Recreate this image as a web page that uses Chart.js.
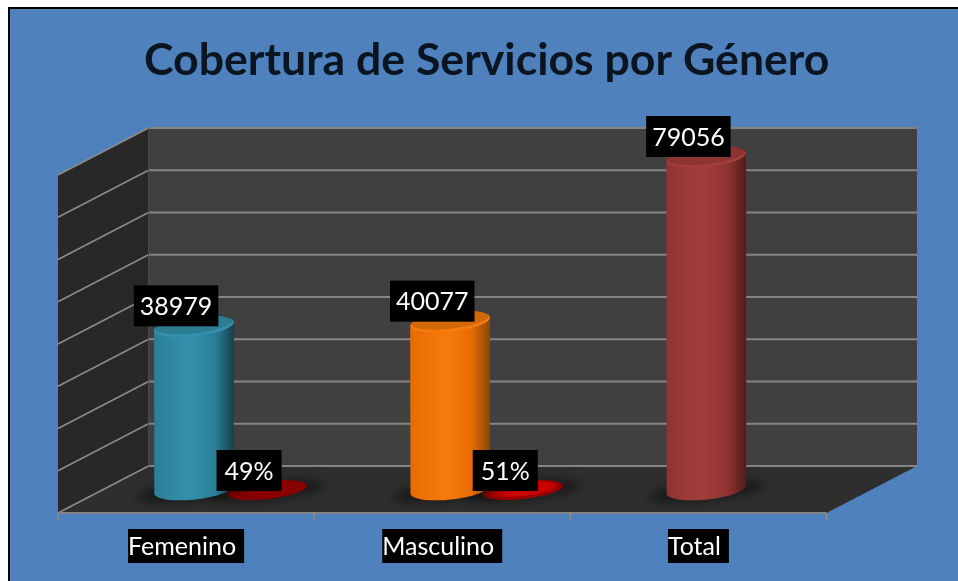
<!DOCTYPE html>
<html>
<head>
<meta charset="utf-8">
<title>Cobertura de Servicios por Género</title>
<script src="https://cdn.jsdelivr.net/npm/chart.js@4"></script>
<style>
  html, body { margin: 0; padding: 0; background: #fff; }
  canvas { display: block; }
</style>
</head>
<body>
<canvas id="cobertura" width="958" height="581"></canvas>
<script>
const categories = ['Femenino', 'Masculino', 'Total'];
const personas = [38979, 40077, 79056];
const porcentajes = [49, 51, null];
const axisTicks = [0, 10000, 20000, 30000, 40000, 50000, 60000, 70000, 80000];

// left, light, right-edge shades of each cylinder
const barShades = [
  ['#2b7f97', '#3491ab', '#173f4d'],
  ['#e86c02', '#f67a0c', '#8a4506'],
  ['#8f3431', '#a23d3a', '#4f1c1a']
];
const discShades = ['#8a0000', '#c80000'];

// the bars stand on a plane halfway between the front edge and the back wall
const front = { dx: -44.5, dy: 22 };
const back = { dx: 46, dy: -25 };
const RY = 10;
const TILT = -0.11;
const BASE_LIFT = 1.5;
const LABEL_FONT = '25px Lato';

function polygon(ctx, pts, fill) {
  ctx.beginPath();
  pts.forEach((p, i) => (i ? ctx.lineTo(p[0], p[1]) : ctx.moveTo(p[0], p[1])));
  ctx.closePath();
  ctx.fillStyle = fill;
  ctx.fill();
}

function line(ctx, x1, y1, x2, y2, color, width) {
  ctx.beginPath();
  ctx.moveTo(x1, y1);
  ctx.lineTo(x2, y2);
  ctx.strokeStyle = color;
  ctx.lineWidth = width;
  ctx.stroke();
}

function textBox(ctx, text, cx, bottom, padL, padR, height) {
  const w = ctx.measureText(text).width;
  ctx.fillStyle = '#000';
  ctx.fillRect(cx - w / 2 - padL, bottom - height, w + padL + padR, height);
  ctx.fillStyle = '#fff';
  ctx.fillText(text, cx, bottom - height / 2 + 1);
}

function cylinderPath(ctx, bar) {
  const r = bar.width / 2;
  ctx.moveTo(bar.x - r, bar.y);
  ctx.ellipse(bar.x, bar.y, r, RY, TILT, Math.PI, 2 * Math.PI);
  ctx.ellipse(bar.x, bar.base - BASE_LIFT, r, RY, TILT, 0, Math.PI);
  ctx.closePath();
}

function barGradient(ctx, bar, shades) {
  const g = ctx.createLinearGradient(bar.x - bar.width / 2, 0, bar.x + bar.width / 2, 0);
  g.addColorStop(0, shades[0]);
  g.addColorStop(0.45, shades[1]);
  g.addColorStop(0.76, shades[0]);
  g.addColorStop(1, shades[2]);
  return g;
}

const scene = {
  id: 'scene',
  beforeDraw(chart) {
    const { ctx, canvas } = chart;
    const { x, y } = chart.scales;
    ctx.save();
    ctx.fillStyle = '#fff';
    ctx.fillRect(0, 0, canvas.width, canvas.height);
    ctx.fillStyle = '#000';
    ctx.fillRect(8, 7, canvas.width, canvas.height);
    ctx.fillStyle = '#4f81bd';
    ctx.fillRect(10, 9, canvas.width, canvas.height);
    ctx.restore();

    const l = x.left, r = x.right, t = y.top, b = y.bottom;
    ctx.save();
    // back wall, side wall, floor
    polygon(ctx, [[l + back.dx, t + back.dy], [r + back.dx, t + back.dy], [r + back.dx, b + back.dy], [l + back.dx, b + back.dy]], '#404040');
    polygon(ctx, [[l + front.dx, t + front.dy], [l + back.dx, t + back.dy], [l + back.dx, b + back.dy], [l + front.dx, b + front.dy]], '#282828');
    polygon(ctx, [[l + front.dx, b + front.dy], [l + back.dx, b + back.dy], [r + back.dx, b + back.dy], [r + front.dx, b + front.dy]], '#2e2e2e');

    axisTicks.forEach(v => {
      const py = y.getPixelForValue(v);
      line(ctx, l + front.dx, py + front.dy, l + back.dx, py + back.dy, '#8c8c8c', 1.5);
      line(ctx, l + back.dx, py + back.dy, r + back.dx, py + back.dy, '#858585', 2);
    });
    line(ctx, l + back.dx, t + back.dy, l + back.dx, b + back.dy, '#4a4a4a', 1);

    // front edge and category ticks
    line(ctx, l + front.dx, b + front.dy, r + front.dx, b + front.dy, '#858585', 2);
    const step = (r - l) / categories.length;
    for (let i = 0; i <= categories.length; i++) {
      const tx = l + front.dx + i * step;
      line(ctx, tx, b + front.dy, tx, b + front.dy + 8, '#8c8c8c', 1.5);
    }
    ctx.restore();
  },
  beforeDatasetDraw(chart, args) {
    const { ctx } = chart;
    const shown = (bar, i) => args.index === 0 || porcentajes[i] !== null;
    const bars = args.meta.data.filter(shown);

    ctx.save();
    ctx.filter = 'blur(5px)';
    ctx.fillStyle = 'rgba(0,0,0,0.42)';
    bars.forEach(bar => {
      ctx.beginPath();
      ctx.ellipse(bar.x, bar.base, bar.width / 2 + 18, RY, TILT, 0, 2 * Math.PI);
      ctx.fill();
    });
    ctx.restore();

    if (args.index === 0) {
      bars.forEach((bar, i) => {
        ctx.save();
        ctx.beginPath();
        cylinderPath(ctx, bar);
        ctx.fillStyle = barGradient(ctx, bar, barShades[i]);
        ctx.fill();
        ctx.restore();
      });
    }
    // keep the library's square bar corners inside the round silhouette
    ctx.save();
    ctx.beginPath();
    bars.forEach(bar => cylinderPath(ctx, bar));
    ctx.clip();
  },
  afterDatasetDraw(chart, args) {
    const { ctx } = chart;
    ctx.restore();
    args.meta.data.forEach((bar, i) => {
      if (args.index === 1 && porcentajes[i] === null) return;
      const r = bar.width / 2;
      if (args.index === 0) {
        ctx.save();
        ctx.translate(bar.x, bar.y);
        ctx.rotate(TILT);
        ctx.beginPath();
        ctx.ellipse(0, 0, r, RY, 0, 0, 2 * Math.PI);
        ctx.fillStyle = barShades[i][1];
        ctx.fill();
        ctx.globalAlpha = 0.14;
        ctx.fillStyle = '#000';
        ctx.beginPath();
        ctx.ellipse(0, -1.5, r - 1, RY - 1.5, 0, 0, 2 * Math.PI);
        ctx.fill();
        ctx.restore();
      } else {
        ctx.save();
        ctx.translate(bar.x, bar.base - 1);
        ctx.rotate(TILT);
        ctx.beginPath();
        ctx.ellipse(0, 0, r, RY - 1, 0, 0, 2 * Math.PI);
        ctx.fillStyle = i === 0 ? discShades[0] : '#9a0000';
        ctx.fill();
        ctx.beginPath();
        ctx.ellipse(0, -1, r - 7, RY - 3, 0, 0, 2 * Math.PI);
        ctx.fillStyle = discShades[i];
        ctx.fill();
        ctx.restore();
      }
    });
  },
  afterDatasetsDraw(chart) {
    const { ctx } = chart;
    const { x, y } = chart.scales;
    ctx.save();
    ctx.font = LABEL_FONT;
    ctx.textAlign = 'center';
    ctx.textBaseline = 'middle';
    chart.getDatasetMeta(0).data.forEach((bar, i) => {
      textBox(ctx, String(personas[i]), bar.x - 18, bar.y, 6, 6, 41);
    });
    chart.getDatasetMeta(1).data.forEach((bar, i) => {
      if (porcentajes[i] === null) return;
      textBox(ctx, porcentajes[i] + '%', bar.x - 18, bar.base, 8, 8, 41);
    });
    categories.forEach((c, i) => {
      textBox(ctx, c, x.getPixelForValue(i) + front.dx - 4, y.bottom + front.dy + 50, 0, 8, 34);
    });
    ctx.restore();
  }
};

new Chart(document.getElementById('cobertura'), {
  type: 'bar',
  plugins: [scene],
  data: {
    labels: categories,
    datasets: [
      { label: 'Personas', data: personas, backgroundColor: '#00000000' },
      // share of the total, so it sits on the floor at this scale
      { label: 'Porcentaje', data: porcentajes, backgroundColor: '#00000000' }
    ]
  },
  options: {
    responsive: false,
    animation: false,
    categoryPercentage: 0.57,
    barPercentage: 1.096,
    layout: { padding: { left: 102.5, right: 87, top: 34, bottom: 90 } },
    scales: {
      x: { display: false },
      y: { display: false, min: 0, max: 80000, ticks: { stepSize: 10000 } }
    },
    plugins: {
      legend: { display: false },
      tooltip: { enabled: false },
      title: {
        display: true,
        text: 'Cobertura de Servicios por Género',
        color: '#0b1522',
        font: { family: 'Lato', size: 44.6, weight: 'bold' },
        padding: { top: 0, bottom: 65.5 }
      }
    }
  }
});
</script>
</body>
</html>
